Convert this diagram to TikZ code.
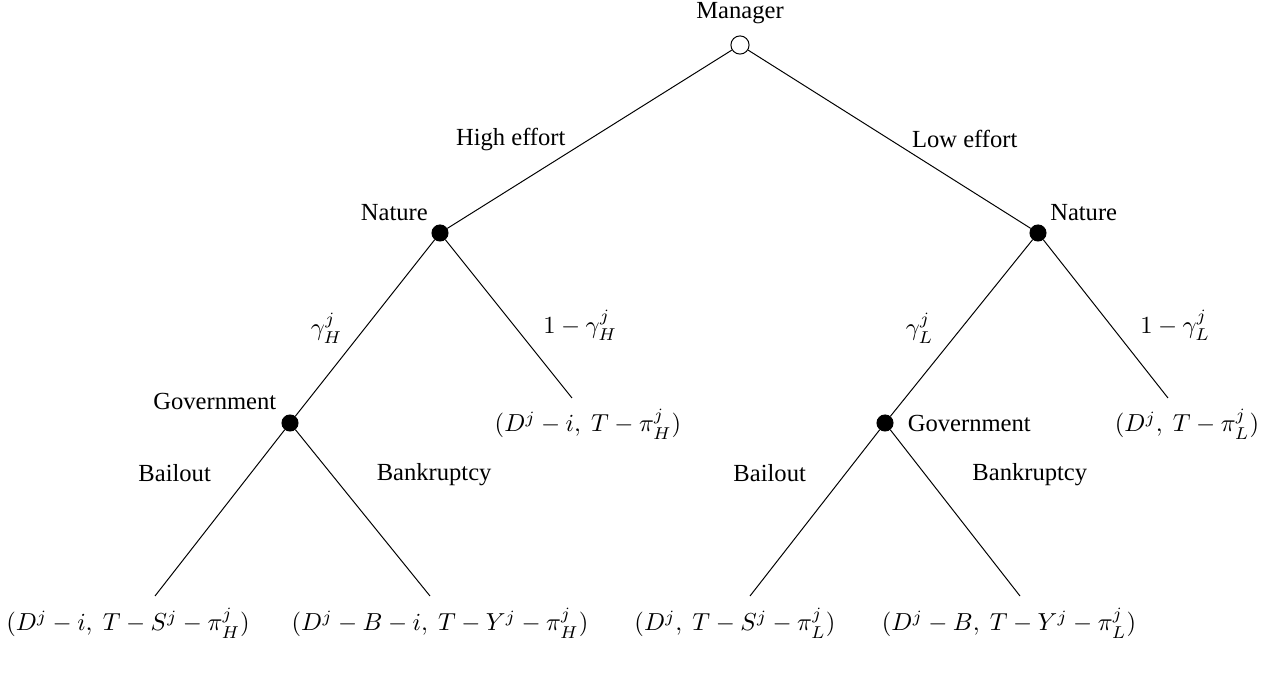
\documentclass[tikz,border=0pt]{standalone}
\usepackage{fontspec}
\setmainfont{Liberation Serif}
\usepackage{amsmath}
\usetikzlibrary{positioning}

\begin{document}
\begin{tikzpicture}[x=0.0143cm, y=-0.0143cm,
    player/.style={circle, draw, fill=white, inner sep=0pt, minimum size=0.26cm},
    chance/.style={circle, draw, fill=black, inner sep=0pt, minimum size=0.23cm},
    payoff/.style={inner sep=1pt}]
    \useasboundingbox (0,0) rectangle (1274,673);

    % decision nodes
    \node[player, label={[label distance=0.04cm]above:Manager}] (M) at (740,45) {};
    \node[chance, label={[label distance=-0.05cm]above left:Nature}] (NH) at (440,233) {};
    \node[chance, label={[label distance=-0.02cm]above left:Government}] (GH) at (290,423) {};
    \node[chance, label={[label distance=-0.05cm]above right:Nature}] (NL) at (1038,233) {};
    \node[chance, label={[label distance=0.08cm]right:Government}] (GL) at (885,423) {};

    % ends of the branches
    \coordinate (EH) at (572,398);
    \coordinate (EL) at (1168,398);
    \coordinate (BH1) at (155,596);
    \coordinate (BH2) at (430,596);
    \coordinate (BL1) at (750,596);
    \coordinate (BL2) at (1020,596);

    % payoffs
    \node[payoff] (pEH) at (588,424) {$(D^j-i,\ T-\pi^j_H)$};
    \node[payoff] (pEL) at (1187,424) {$(D^j,\ T-\pi^j_L)$};
    \node[payoff] (pBH1) at (128,623) {$(D^j-i,\ T-S^j-\pi^j_H)$};
    \node[payoff] (pBH2) at (440,623) {$(D^j-B-i,\ T-Y^j-\pi^j_H)$};
    \node[payoff] (pBL1) at (735,623) {$(D^j,\ T-S^j-\pi^j_L)$};
    \node[payoff] (pBL2) at (1009,623) {$(D^j-B,\ T-Y^j-\pi^j_L)$};

    \begin{scope}[every edge/.style={draw=black}]
        \path (M) edge node[pos=.5, left=0.22cm] {High effort} (NH);
        \path (M) edge node[pos=.5, right=0.2cm] {Low effort} (NL);
        \path (NH) edge node[pos=.5, left=0.2cm] {$\gamma^j_H$} (GH);
        \path (NH) edge node[pos=.54, right=0.3cm] {$1-\gamma^j_H$} (EH);
        \path (NL) edge node[pos=.5, left=0.28cm] {$\gamma^j_L$} (GL);
        \path (NL) edge node[pos=.54, right=0.3cm] {$1-\gamma^j_L$} (EL);
        \path (GH) edge node[pos=.26, left=0.45cm] {Bailout} (BH1);
        \path (GH) edge node[pos=.27, right=0.52cm] {Bankruptcy} (BH2);
        \path (GL) edge node[pos=.26, left=0.45cm] {Bailout} (BL1);
        \path (GL) edge node[pos=.27, right=0.55cm] {Bankruptcy} (BL2);
    \end{scope}
\end{tikzpicture}
\end{document}
